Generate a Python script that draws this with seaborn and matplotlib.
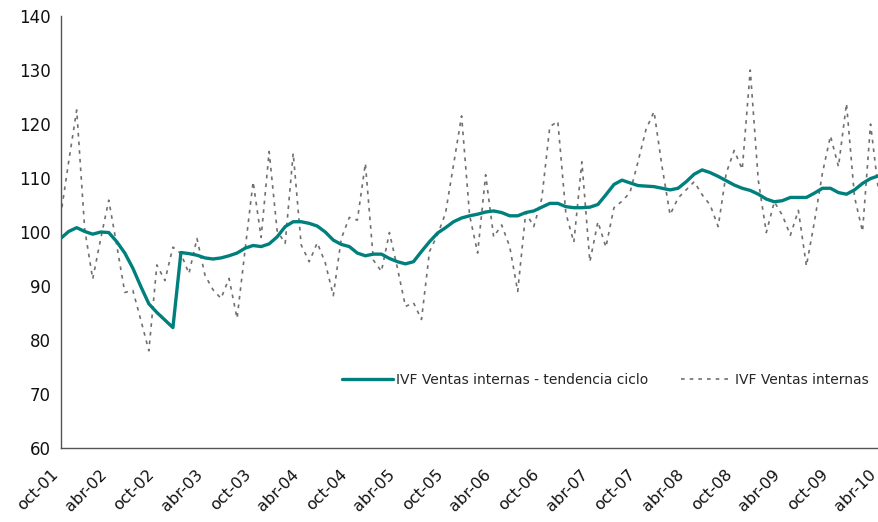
import matplotlib
matplotlib.use("Agg")
import matplotlib.pyplot as plt
import matplotlib.transforms as mtransforms
import seaborn as sns
import pandas as pd

# Monthly series, oct-01 .. abr-10 (103 months)
tendencia = [98.8, 100.1, 100.8, 100.1, 99.6, 100.0, 99.9, 98.2, 96.1, 93.3,
             89.9, 86.7, 85.1, 83.7, 82.3, 96.2, 96.0, 95.7, 95.2, 95.0,
             95.2, 95.6, 96.1, 97.0, 97.5, 97.3, 97.8, 99.1, 101.0, 101.9,
             101.9, 101.6, 101.1, 100.0, 98.5, 97.7, 97.3, 96.1, 95.6, 95.9,
             95.9, 95.1, 94.5, 94.1, 94.5, 96.4, 98.2, 99.8, 100.8, 101.9,
             102.6, 103.0, 103.3, 103.7, 103.9, 103.6, 103.0, 103.0, 103.6, 103.9,
             104.6, 105.3, 105.3, 104.7, 104.5, 104.5, 104.6, 105.1, 106.9, 108.8,
             109.6, 109.1, 108.6, 108.5, 108.4, 108.1, 107.8, 108.1, 109.3, 110.7,
             111.5, 111.0, 110.3, 109.5, 108.7, 108.1, 107.7, 107.0, 106.1, 105.6,
             105.8, 106.4, 106.4, 106.4, 107.2, 108.1, 108.1, 107.3, 107.0, 107.8,
             109.0, 109.9, 110.4]

ventas = [103.0, 113.0, 122.6, 100.5, 91.3, 98.8, 105.9, 97.5, 88.8, 89.2,
          83.7, 78.0, 93.9, 91.0, 97.2, 96.0, 92.3, 98.8, 92.0, 89.3,
          87.7, 91.4, 84.0, 96.7, 109.3, 99.0, 114.9, 100.2, 97.9, 114.6,
          97.6, 94.5, 98.0, 94.3, 88.2, 98.8, 102.7, 102.2, 112.7, 94.8,
          92.7, 99.9, 93.3, 86.2, 86.9, 83.8, 96.4, 99.5, 103.5, 112.5,
          121.5, 103.1, 96.1, 110.6, 99.1, 101.3, 97.3, 89.0, 103.6, 101.0,
          106.2, 119.5, 120.5, 103.5, 98.1, 113.0, 94.5, 101.9, 97.2, 104.5,
          105.7, 107.3, 113.0, 119.0, 122.3, 112.1, 103.2, 106.3, 107.8, 109.3,
          106.9, 105.0, 101.0, 110.9, 115.1, 111.6, 130.0, 109.6, 99.9, 105.6,
          103.1, 99.4, 104.0, 93.7, 101.9, 110.9, 117.8, 112.1, 123.8, 106.5,
          100.1, 120.0, 107.5]

tick_labels = ['oct-01', 'abr-02', 'oct-02', 'abr-03', 'oct-03', 'abr-04',
               'oct-04', 'abr-05', 'oct-05', 'abr-06', 'oct-06', 'abr-07',
               'oct-07', 'abr-08', 'oct-08', 'abr-09', 'oct-09', 'abr-10']
y_ticks = [60, 70, 80, 90, 100, 110, 120, 130, 140]

lbl_trend = 'IVF Ventas internas - tendencia ciclo'
lbl_raw = 'IVF Ventas internas'

df = pd.DataFrame({'mes': list(range(len(tendencia))),
                   'tendencia': tendencia, 'ventas': ventas})

sns.set_style("white")
plt.rcParams['font.family'] = ['DejaVu Sans']

fig = plt.figure(figsize=(8.79, 5.22), dpi=100)
ax = fig.add_axes([0.069, 0.1418, 0.9305, 0.8275])

sns.lineplot(data=df, x='mes', y='ventas', ax=ax, color='#707070',
             linewidth=1.2, linestyle=(0, (2.2, 3.0)), zorder=2)
sns.lineplot(data=df, x='mes', y='tendencia', ax=ax, color='#00807d',
             linewidth=2.4, zorder=3)

ax.set_xlim(0, len(tendencia) - 1)
ax.set_ylim(60, 140)
ax.set_yticks(y_ticks)
ax.set_yticklabels([str(v) for v in y_ticks])
ax.set_xticks(list(range(0, len(tendencia), 6)))
ax.set_xticklabels(tick_labels, rotation=45, ha='right', rotation_mode='anchor')
ax.set_xlabel('')
ax.set_ylabel('')

for s in ['top', 'right']:
    ax.spines[s].set_visible(False)
for s in ['left', 'bottom']:
    ax.spines[s].set_color('#555555')
    ax.spines[s].set_linewidth(1.0)
ax.tick_params(axis='both', which='major', direction='out', length=4,
               width=1.0, color='#555555', labelsize=12, labelcolor='#111111')
ax.tick_params(axis='x', labelsize=11.5, pad=6)
ax.tick_params(axis='y', pad=3)

offset = mtransforms.ScaledTranslation(-10 / 100, -5 / 100, fig.dpi_scale_trans)
for lab in ax.get_xticklabels():
    lab.set_transform(lab.get_transform() + offset)

h_trend = plt.Line2D([], [], color='#00807d', linewidth=2.4)
h_raw = plt.Line2D([], [], color='#707070', linewidth=1.2, linestyle=(0, (2.2, 3.0)))
ax.legend(handles=[h_trend, h_raw], labels=[lbl_trend, lbl_raw],
          loc='center', bbox_to_anchor=(0.666, 0.157), ncol=2, frameon=False,
          fontsize=10, handlelength=3.7, handletextpad=0.25, columnspacing=2.3)

fig.savefig('out.png', dpi=100)
